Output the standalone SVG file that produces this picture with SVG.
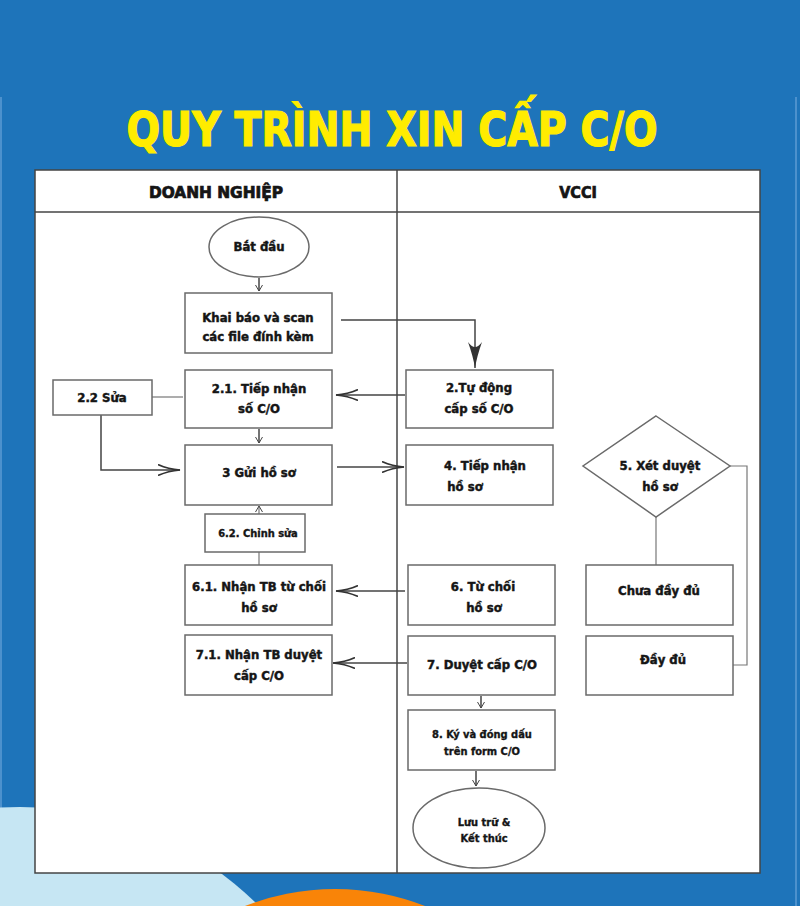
<svg xmlns="http://www.w3.org/2000/svg" width="800" height="906" viewBox="0 0 800 906">
<defs>
<style>
.bg{fill:#1e74ba}
.box{fill:#fff;stroke:#6a6a6a;stroke-width:1.5}
.t{font-family:"DejaVu Sans Condensed","DejaVu Sans","Liberation Sans",sans-serif;font-weight:bold;font-size:13px;fill:#151515;stroke:#151515;stroke-width:0.45;text-anchor:middle}
.s{font-size:11px;stroke-width:0.35}
.h{font-size:16px;stroke-width:0.7}
.title{font-family:"DejaVu Sans Condensed","DejaVu Sans",sans-serif;font-weight:bold;font-size:48px;fill:#ffec00;stroke:#ffec00;stroke-width:1.2;text-anchor:middle}
.ln{fill:none;stroke:#444;stroke-width:1.5}
.lt{fill:none;stroke:#777;stroke-width:1.2}
</style>
<marker id="big" markerUnits="userSpaceOnUse" markerWidth="24" markerHeight="12" refX="22" refY="6" orient="auto">
<path d="M0,0.5 Q10,5 22,6 Q10,7 0,11.5" fill="none" stroke="#333" stroke-width="1.6"/>
</marker>
<marker id="down" markerUnits="userSpaceOnUse" markerWidth="28" markerHeight="14" refX="26" refY="7" orient="auto">
<path d="M0,0 Q14,5 26,7 Q14,9 0,14 Q10,7 0,0Z" fill="#333"/>
</marker>
<marker id="sm" markerUnits="userSpaceOnUse" markerWidth="8" markerHeight="8" refX="6" refY="4" orient="auto">
<path d="M0,0.5 L6,4 L0,7.5" fill="none" stroke="#444" stroke-width="1"/>
</marker>
</defs>
<rect class="bg" x="0" y="0" width="800" height="906"/>
<line x1="1" y1="97" x2="1" y2="906" stroke="#5d9bd3" stroke-width="1.5"/>
<line x1="796" y1="97" x2="796" y2="906" stroke="#5d9bd3" stroke-width="1.5"/>
<circle cx="20" cy="1145" r="338" fill="#c6e6f3"/>
<circle cx="335" cy="1136" r="247" fill="#f98408"/>
<text class="title" x="392" y="146" textLength="531" lengthAdjust="spacingAndGlyphs">QUY TRÌNH XIN CẤP C/O</text>
<g id="table">
<rect x="35" y="170" width="725" height="703" fill="#fff" stroke="#444" stroke-width="1.5"/>
<line x1="35" y1="212" x2="760" y2="212" stroke="#444" stroke-width="1.5"/>
<line x1="397" y1="170" x2="397" y2="873" stroke="#444" stroke-width="1.5"/>
<text class="t h" x="216" y="198" textLength="134" lengthAdjust="spacingAndGlyphs">DOANH NGHIỆP</text>
<text class="t h" x="578" y="198">VCCI</text>
</g>
<g id="connectors">
<line class="ln" x1="259" y1="278" x2="259" y2="291" marker-end="url(#sm)"/>
<polyline class="ln" points="341,320 475,320 475,368" marker-end="url(#down)"/>
<line class="ln" x1="405" y1="395" x2="336" y2="395" marker-end="url(#big)"/>
<line class="lt" x1="183" y1="397" x2="152" y2="397"/>
<line class="ln" x1="259" y1="429" x2="259" y2="443" marker-end="url(#sm)"/>
<polyline class="ln" points="101,415 101,470 180,470" marker-end="url(#big)"/>
<line class="ln" x1="337" y1="467" x2="404" y2="467" marker-end="url(#big)"/>
<line class="lt" x1="259" y1="514" x2="259" y2="506" marker-end="url(#sm)"/>
<line class="lt" x1="259" y1="565" x2="259" y2="552"/>
<line class="ln" x1="405" y1="591" x2="336" y2="591" marker-end="url(#big)"/>
<line class="ln" x1="407" y1="663" x2="333" y2="663" marker-end="url(#big)"/>
<line class="lt" x1="656" y1="517" x2="656" y2="565"/>
<polyline class="lt" points="730,466 747,466 747,665 733,665"/>
<line class="ln" x1="481" y1="696" x2="481" y2="708" marker-end="url(#sm)"/>
<line class="ln" x1="476" y1="771" x2="476" y2="786" marker-end="url(#sm)"/>
</g>
<g id="start"><ellipse class="box" cx="259" cy="247" rx="50" ry="30"/><text class="t" x="259" y="251">Bắt đầu</text></g>
<g id="khai-bao"><rect class="box" x="185" y="293" width="147" height="60"/><text class="t" x="258" y="322">Khai báo và scan</text><text class="t" x="258" y="341">các file đính kèm</text></g>
<g id="n21"><rect class="box" x="185" y="370" width="147" height="58"/><text class="t" x="259" y="393">2.1. Tiếp nhận</text><text class="t" x="259" y="413">số C/O</text></g>
<g id="n22"><rect class="box" x="53" y="380" width="99" height="35"/><text class="t" x="102" y="402">2.2 Sửa</text></g>
<g id="n2"><rect class="box" x="406" y="370" width="147" height="58"/><text class="t" x="479" y="392">2.Tự động</text><text class="t" x="479" y="413">cấp số C/O</text></g>
<g id="n3"><rect class="box" x="185" y="445" width="147" height="60"/><text class="t" x="259" y="477">3 Gửi hồ sơ</text></g>
<g id="n4"><rect class="box" x="406" y="445" width="147" height="60"/><text class="t" x="485" y="470">4. Tiếp nhận</text><text class="t" x="465" y="491">hồ sơ</text></g>
<g id="n5"><polygon class="box" points="656,416 730,466 656,517 583,466"/><text class="t" x="660" y="470">5. Xét duyệt</text><text class="t" x="660" y="491">hồ sơ</text></g>
<g id="chua-day-du"><rect class="box" x="586" y="565" width="147" height="60"/><text class="t" x="659" y="595">Chưa đầy đủ</text></g>
<g id="day-du"><rect class="box" x="586" y="636" width="147" height="59"/><text class="t" x="663" y="664">Đầy đủ</text></g>
<g id="n62"><rect class="box" x="205" y="514" width="100" height="38"/><text class="t s" x="258" y="537">6.2. Chỉnh sửa</text></g>
<g id="n61"><rect class="box" x="185" y="565" width="147" height="60"/><text class="t" x="259" y="591">6.1. Nhận TB từ chối</text><text class="t" x="259" y="612">hồ sơ</text></g>
<g id="n6"><rect class="box" x="408" y="565" width="147" height="60"/><text class="t" x="483" y="591">6. Từ chối</text><text class="t" x="484" y="612">hồ sơ</text></g>
<g id="n71"><rect class="box" x="185" y="635" width="147" height="60"/><text class="t" x="259" y="659">7.1. Nhận TB duyệt</text><text class="t" x="259" y="680">cấp C/O</text></g>
<g id="n7"><rect class="box" x="408" y="636" width="147" height="59"/><text class="t" x="482" y="669">7. Duyệt cấp C/O</text></g>
<g id="n8"><rect class="box" x="408" y="710" width="147" height="60"/><text class="t s" x="482" y="738">8. Ký và đóng dấu</text><text class="t s" x="482" y="755">trên form C/O</text></g>
<g id="end"><ellipse class="box" cx="479" cy="828" rx="66" ry="40"/><text class="t s" x="484" y="826">Lưu trữ &amp;</text><text class="t s" x="484" y="842">Kết thúc</text></g>
</svg>
